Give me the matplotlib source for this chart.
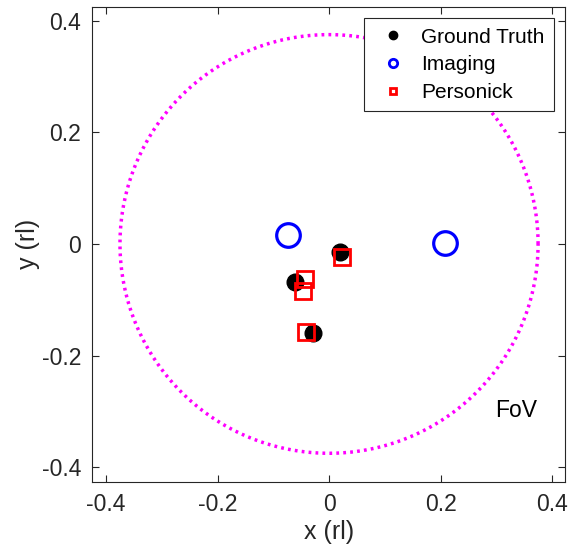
import numpy as np
import matplotlib
matplotlib.use("Agg")
import matplotlib.pyplot as plt

plt.rcParams['font.family'] = ['Liberation Sans', 'DejaVu Sans']

# --- data ---
truth_x = [0.020, -0.061, -0.029]
truth_y = [-0.015, -0.068, -0.159]

imaging_x = [-0.074, 0.208]
imaging_y = [0.016, 0.002]

personick_x = [0.023, -0.044, -0.047, -0.041]
personick_y = [-0.023, -0.063, -0.084, -0.158]

fov_radius = 0.375
ticks = [-0.4, -0.2, 0, 0.2, 0.4]
tick_labels = ['-0.4', '-0.2', '0', '0.2', '0.4']

TXT = '#262626'

fig = plt.figure(figsize=(5.72, 5.5), dpi=100)
ax = fig.add_axes([0.1614, 0.1236, 0.8264, 0.8642])

theta = np.linspace(0, 2 * np.pi, 600)
ax.plot(fov_radius * np.cos(theta), fov_radius * np.sin(theta),
        ls=(0, (0.8, 1.2)), color='#ff00ff', lw=2.5, zorder=1)

ax.plot(truth_x, truth_y, 'o', color='black', ms=12, ls='none', zorder=2)
ax.plot(imaging_x, imaging_y, 'o', mfc='none', mec='blue', mew=2.3, ms=17,
        ls='none', zorder=3)
ax.plot(personick_x, personick_y, 's', mfc='none', mec='red', mew=2.0, ms=11,
        ls='none', zorder=4)

# legend handles with small markers
h1, = ax.plot([], [], 'o', color='black', ms=6)
h2, = ax.plot([], [], 'o', mfc='none', mec='blue', mew=2.0, ms=6)
h3, = ax.plot([], [], 's', mfc='none', mec='red', mew=2.0, ms=4.2)
leg = ax.legend([h1, h2, h3], ['Ground Truth', 'Imaging', 'Personick'],
                loc='upper right', fontsize=15, frameon=True, fancybox=False,
                edgecolor=TXT, framealpha=1, borderpad=0.45, labelspacing=0.42,
                handlelength=1.95, handletextpad=0.35, borderaxespad=0.55)
leg.get_frame().set_linewidth(0.8)

ax.text(0.335, -0.299, 'FoV', fontsize=16.5, color='black', ha='center', va='center')

ax.set_xlim(-0.4246, 0.4233)
ax.set_ylim(-0.4265, 0.425)
ax.set_xticks(ticks)
ax.set_xticklabels(tick_labels)
ax.set_yticks(ticks)
ax.set_yticklabels(tick_labels)
ax.tick_params(direction='in', top=True, right=True, labelsize=16.5,
               colors=TXT, length=5, width=0.8, pad=8)
for s in ax.spines.values():
    s.set_color(TXT)
    s.set_linewidth(0.8)

ax.set_xlabel('x (rl)', fontsize=18, color=TXT, labelpad=3)
ax.set_ylabel('y (rl)', fontsize=18, color=TXT, labelpad=1)

fig.savefig('out.png', dpi=100)
